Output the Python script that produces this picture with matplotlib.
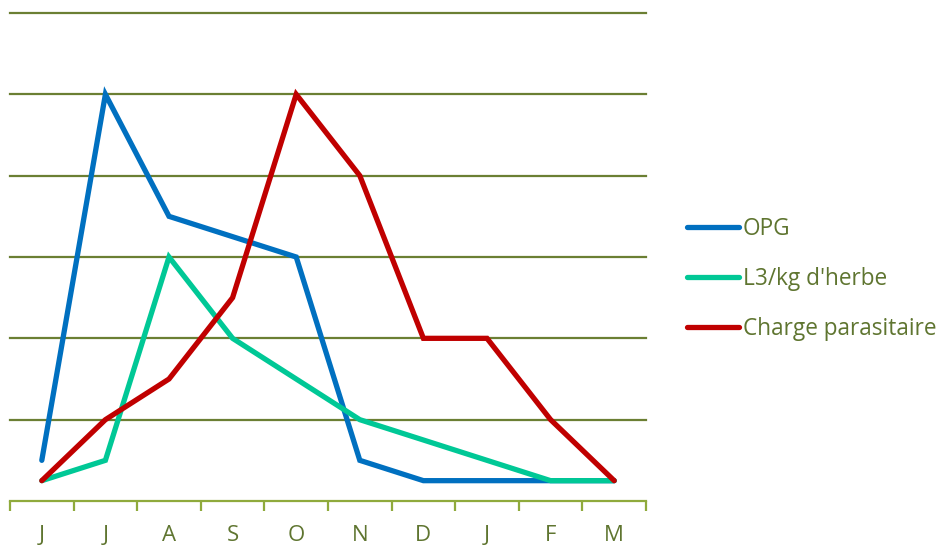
import matplotlib.pyplot as plt
import numpy as np

mois = ["J", "J", "A", "S", "O", "N", "D", "J", "F", "M"]
opg = [0.5, 5, 3.5, 3.25, 3, 0.5, 0.25, 0.25, 0.25, 0.25]
l3_herbe = [0.25, 0.5, 3, 2, 1.5, 1, 0.75, 0.5, 0.25, 0.25]
charge = [0.25, 1, 1.5, 2.5, 5, 4, 2, 2, 1, 0.25]

vert = "#5f7530"
plt.rcParams['font.family'] = ['Open Sans', 'DejaVu Sans']

fig = plt.figure(figsize=(9.47, 5.48), dpi=100)
ax = fig.add_axes([10/947, 47/548, 636/947, 488/548])

x = np.arange(len(mois))
ax.plot(x, opg, color="#0070c0", lw=3.8, solid_capstyle="round", solid_joinstyle="miter", label="OPG", zorder=3)
ax.plot(x, l3_herbe, color="#00c896", lw=3.8, solid_capstyle="round", solid_joinstyle="miter", label="L3/kg d'herbe", zorder=3)
ax.plot(x, charge, color="#c00000", lw=3.8, solid_capstyle="round", solid_joinstyle="miter", label="Charge parasitaire", zorder=3)

ax.set_xlim(-0.5, len(mois) - 0.5)
ax.set_ylim(0, 6)

# grille horizontale
for y in range(1, 7):
    ax.axhline(y, color="#6b7f33", lw=1.6, zorder=1, clip_on=False)

for s in ["top", "right", "left"]:
    ax.spines[s].set_visible(False)
ax.spines["bottom"].set_color("#8faa3c")
ax.spines["bottom"].set_linewidth(1.6)

ax.set_yticks([])
ax.set_xticks(np.arange(-0.5, len(mois)), labels=[])
ax.set_xticks(x, labels=mois, minor=True)
ax.tick_params(axis="x", which="major", direction="out", length=7, width=1.6, color="#8faa3c")
ax.tick_params(axis="x", which="minor", length=0, pad=17, labelsize=16, labelcolor=vert)

leg = ax.legend(loc="center left", bbox_to_anchor=(676/947, 1 - 279/548), bbox_transform=fig.transFigure,
                frameon=False, fontsize=16.3, handlelength=2.3, handletextpad=0.15, labelspacing=1.15,
                borderpad=0)
for t in leg.get_texts():
    t.set_color(vert)

fig.savefig("out.png", dpi=100)
